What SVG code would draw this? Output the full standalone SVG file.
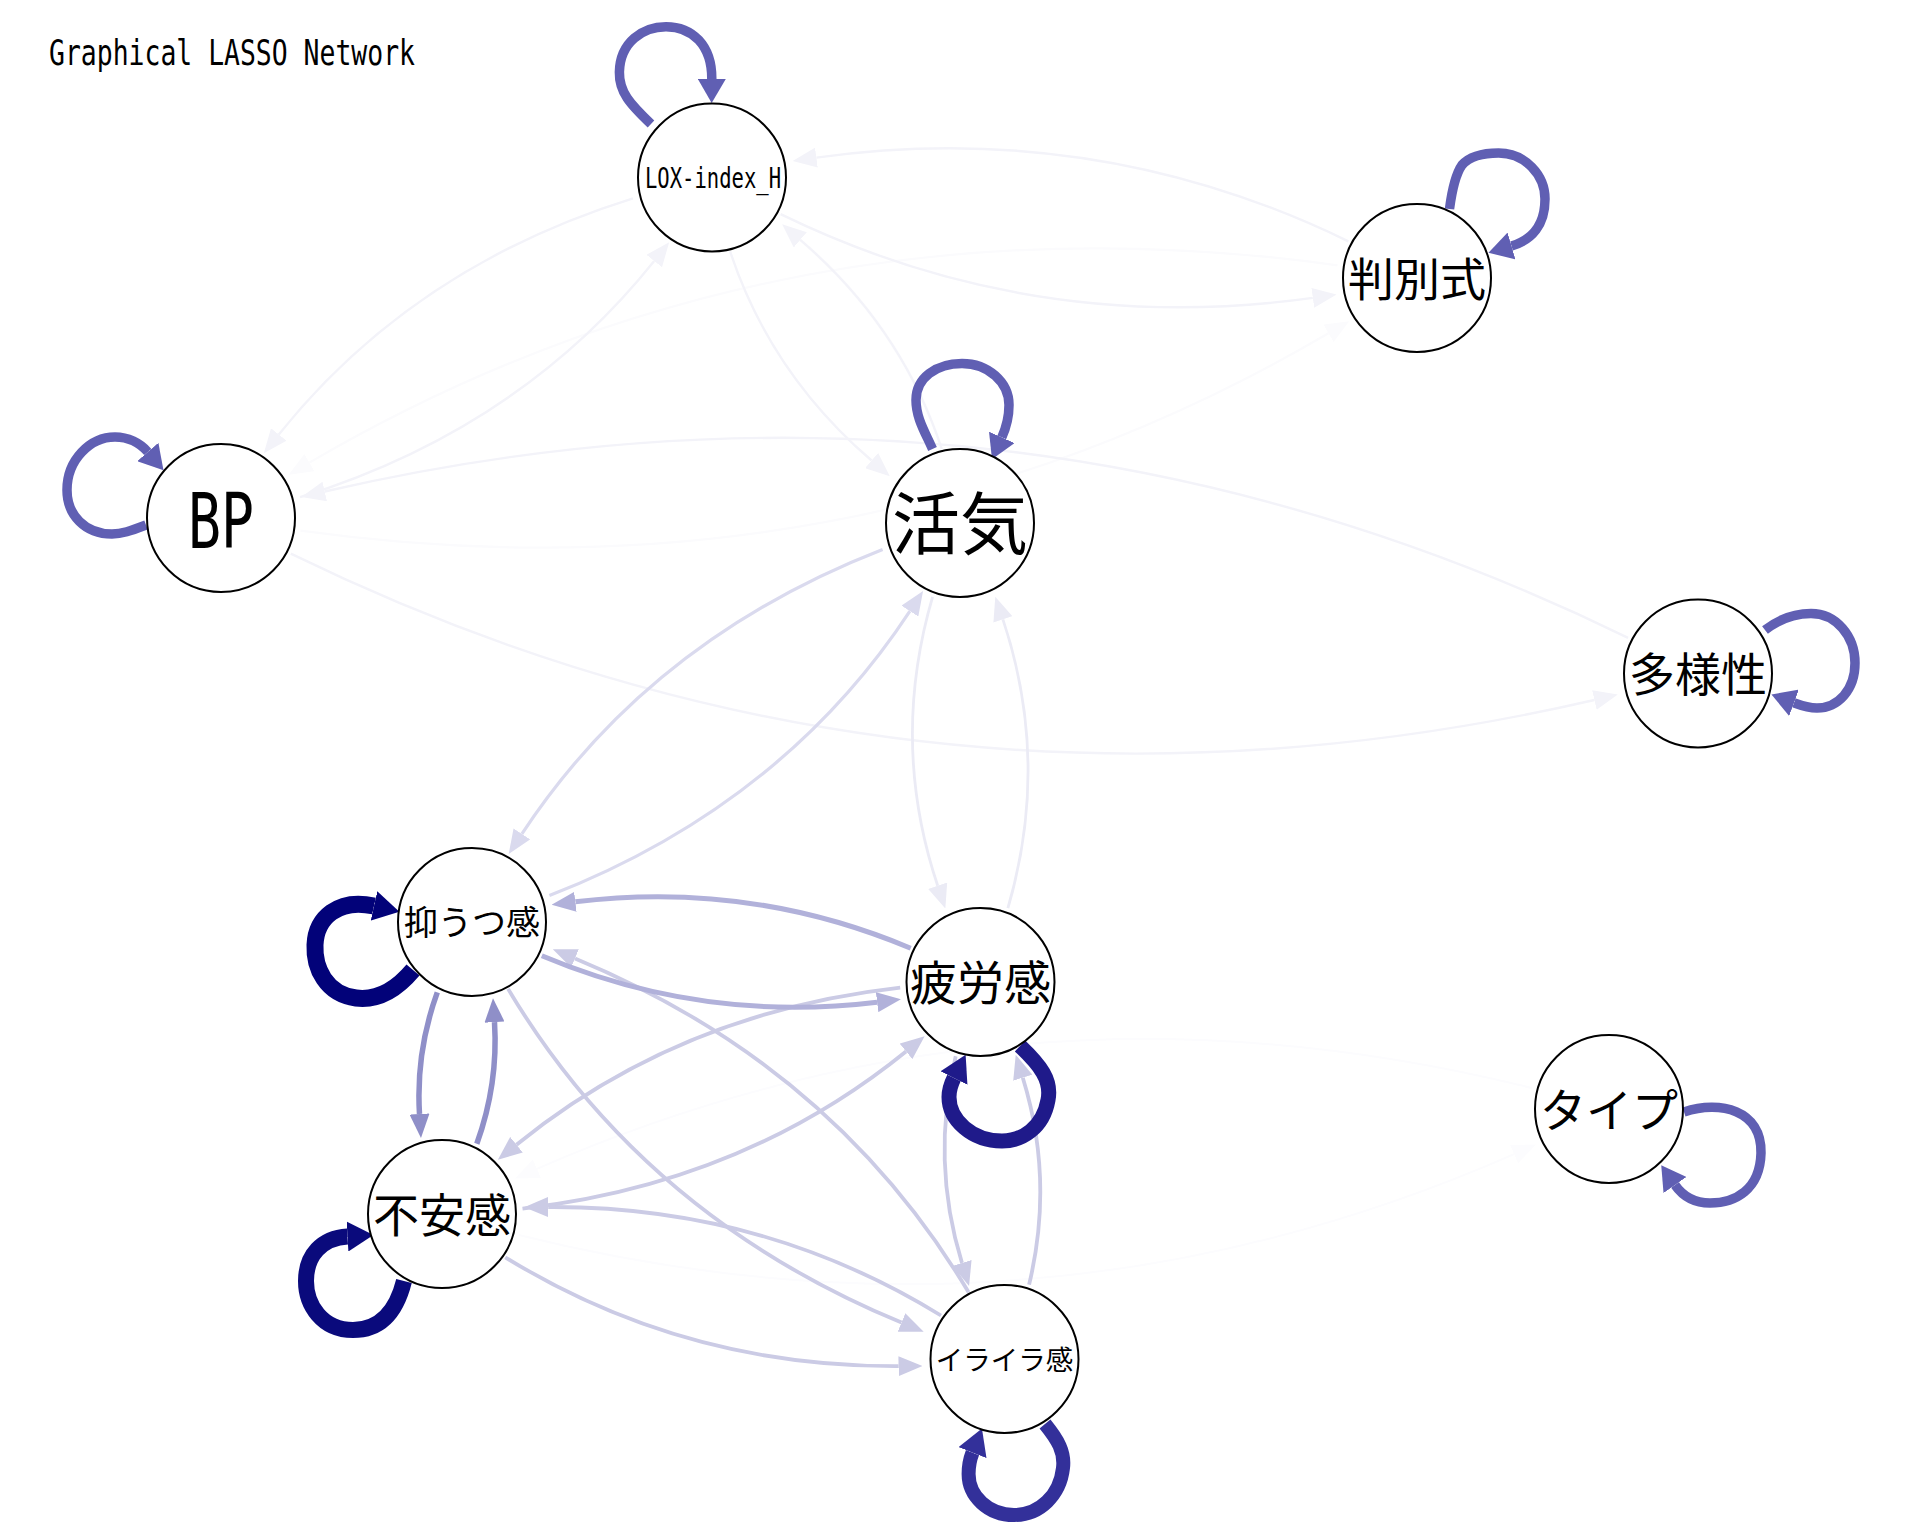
<svg xmlns="http://www.w3.org/2000/svg" width="1920" height="1536" viewBox="0 0 1920 1536">
<style>
.lat{font-family:"DejaVu Sans Mono","Liberation Mono",monospace;fill:#000}
.cjk{font-family:"Noto Sans CJK JP","Noto Sans CJK SC",sans-serif;fill:#000;text-anchor:middle}
.node circle{fill:#fff;stroke:#000;stroke-width:2}
.e{fill:none;stroke-linecap:butt}
.c1{stroke:#8f8fc8;stroke-width:5.5;marker-end:url(#a1)}
.c2{stroke:#b1b1da;stroke-width:5;marker-end:url(#a2)}
.c3{stroke:#cbcbe5;stroke-width:3.8;marker-end:url(#a3)}
.c4{stroke:#dadaee;stroke-width:3.2;marker-end:url(#a4)}
.c5{stroke:#ebebf5;stroke-width:2.8;marker-end:url(#a5)}
.c6{stroke:#f3f3f9;stroke-width:2.4;marker-end:url(#a6)}
.c7{stroke:#fbfbfd;stroke-width:2.2;marker-end:url(#a7)}
.c8{stroke:#fcfcfe;stroke-width:2;marker-end:url(#a8)}
.lm{stroke:#605fb3;stroke-width:9.5;marker-end:url(#lm)}
.ly{stroke:#020279;stroke-width:17;marker-end:url(#ly)}
.lf{stroke:#0a0a7c;stroke-width:16;marker-end:url(#lf)}
.lh{stroke:#1f1a8a;stroke-width:15;marker-end:url(#lh)}
.li{stroke:#33309a;stroke-width:14;marker-end:url(#li)}
</style>
<defs>
<marker id="a1" markerUnits="userSpaceOnUse" orient="auto" markerWidth="24" markerHeight="20" refX="0" refY="10"><path d="M0,0 L24,10 L0,20 z" fill="#8f8fc8"/></marker>
<marker id="a2" markerUnits="userSpaceOnUse" orient="auto" markerWidth="24" markerHeight="20" refX="0" refY="10"><path d="M0,0 L24,10 L0,20 z" fill="#b1b1da"/></marker>
<marker id="a3" markerUnits="userSpaceOnUse" orient="auto" markerWidth="24" markerHeight="20" refX="0" refY="10"><path d="M0,0 L24,10 L0,20 z" fill="#cbcbe5"/></marker>
<marker id="a4" markerUnits="userSpaceOnUse" orient="auto" markerWidth="24" markerHeight="20" refX="0" refY="10"><path d="M0,0 L24,10 L0,20 z" fill="#dadaee"/></marker>
<marker id="a5" markerUnits="userSpaceOnUse" orient="auto" markerWidth="24" markerHeight="20" refX="0" refY="10"><path d="M0,0 L24,10 L0,20 z" fill="#ebebf5"/></marker>
<marker id="a6" markerUnits="userSpaceOnUse" orient="auto" markerWidth="24" markerHeight="20" refX="0" refY="10"><path d="M0,0 L24,10 L0,20 z" fill="#f3f3f9"/></marker>
<marker id="a7" markerUnits="userSpaceOnUse" orient="auto" markerWidth="24" markerHeight="20" refX="0" refY="10"><path d="M0,0 L24,10 L0,20 z" fill="#fbfbfd"/></marker>
<marker id="a8" markerUnits="userSpaceOnUse" orient="auto" markerWidth="24" markerHeight="20" refX="0" refY="10"><path d="M0,0 L24,10 L0,20 z" fill="#fcfcfe"/></marker>
<marker id="lm" markerUnits="userSpaceOnUse" orient="auto" markerWidth="24" markerHeight="28" refX="0" refY="14"><path d="M0,0 L24,14 L0,28 z" fill="#605fb3"/></marker>
<marker id="ly" markerUnits="userSpaceOnUse" orient="auto" markerWidth="26" markerHeight="30" refX="0" refY="15"><path d="M0,0 L26,15 L0,30 z" fill="#020279"/></marker>
<marker id="lf" markerUnits="userSpaceOnUse" orient="auto" markerWidth="26" markerHeight="30" refX="0" refY="15"><path d="M0,0 L26,15 L0,30 z" fill="#0a0a7c"/></marker>
<marker id="lh" markerUnits="userSpaceOnUse" orient="auto" markerWidth="26" markerHeight="30" refX="0" refY="15"><path d="M0,0 L26,15 L0,30 z" fill="#1f1a8a"/></marker>
<marker id="li" markerUnits="userSpaceOnUse" orient="auto" markerWidth="26" markerHeight="30" refX="0" refY="15"><path d="M0,0 L26,15 L0,30 z" fill="#33309a"/></marker>
</defs>
<rect x="0" y="0" width="1920" height="1536" fill="#fff"/>
<text class="lat" x="49" y="64.5" font-size="36" textLength="366" lengthAdjust="spacingAndGlyphs">Graphical LASSO Network</text>
<g id="connectors">
<path class="e c8" d="M518.8,1235 Q1035.6,1364 1514.1,1154.1"/>
<path class="e c8" d="M1532.1,1088.1 Q1015.5,959.1 536.9,1168.8"/>
<path class="e c7" d="M300.4,530.6 Q858.6,608 1328.5,333.3"/>
<path class="e c7" d="M1337.5,265.3 Q779.3,188 309.4,462.6"/>
<path class="e c6" d="M1348.4,241.3 Q1096.7,118.8 816.4,157.6"/>
<path class="e c6" d="M780.6,214.2 Q1032.2,336.8 1312.8,297.9"/>
<path class="e c6" d="M633,198.3 Q412.9,266.8 278.8,434.5"/>
<path class="e c6" d="M300,497.2 Q520.1,428.8 654.2,261"/>
<path class="e c6" d="M730.1,251.4 Q770.4,373.5 871.6,460.5"/>
<path class="e c6" d="M941.8,449.1 Q901.7,327 800.3,239.9"/>
<path class="e c6" d="M1628.1,637.8 Q1006.8,334.2 324.7,491.5"/>
<path class="e c6" d="M290.8,553.7 Q912.3,857.2 1594.4,700"/>
<path class="e c5" d="M932.6,596.9 Q889.8,742.9 937.7,885.7"/>
<path class="e c5" d="M1007.9,908.1 Q1050.6,762.1 1002.9,619.4"/>
<path class="e c4" d="M882.6,549.4 Q649.6,640 521.9,833.9"/>
<path class="e c4" d="M549.4,895.6 Q782.5,804.9 909.9,611.1"/>
<path class="e c3" d="M900.2,987.6 Q679.4,1012.3 516.5,1144.7"/>
<path class="e c3" d="M522.5,1208.6 Q743.2,1183.5 906,1051.4"/>
<path class="e c3" d="M508.1,988.9 Q643.2,1215.7 901.5,1322.6"/>
<path class="e c3" d="M968.6,1292.3 Q833.3,1065.3 575,958.4"/>
<path class="e c3" d="M505.3,1257.3 Q684,1367.2 898.5,1366.2"/>
<path class="e c3" d="M941,1315.5 Q762.5,1205.7 548.2,1207"/>
<path class="e c3" d="M955.7,1056.2 Q930.6,1161.1 962,1263"/>
<path class="e c3" d="M1029.1,1284.6 Q1054.3,1179.9 1022.8,1077.7"/>
<path class="e c2" d="M910.7,948.2 Q749.6,880.5 575.4,901.8"/>
<path class="e c2" d="M541.8,955.8 Q702.9,1023.5 877.1,1002.2"/>
<path class="e c1" d="M437.3,992.4 Q415.7,1052.1 419.5,1114"/>
<path class="e c1" d="M476.8,1143.8 Q498.4,1083.9 494.5,1022.1"/>
<path class="e lm" d="M651,124 C630,104 619,92 619.4,72 C620,42 643,26.7 666,26.7 C692,26.7 712,45 711.8,79"/>
<path class="e lm" d="M146,525 C130,531 122,534 112,534 C85,534 67,515 67,490 C67,460 90,437 115,437 C128,437 140,443 147.8,452"/>
<path class="e lm" d="M932.5,449 C925,432 916,418 916,400 C916,378 936,363.5 962,363.5 C988,363.5 1009,382 1009,405 C1009,418 1006,428 1001.8,437.4"/>
<path class="e lm" d="M1449.5,209 C1452,190 1455,175 1462,165 C1470,156 1484,153 1498.6,153 C1525,153 1545,175 1545,199 C1545,225 1532,240 1511.5,246"/>
<path class="e lm" d="M1765,630 C1778,620 1795,613.5 1811,613.5 C1836,613.5 1855,636 1855,663 C1855,690 1838,708 1817,708 C1808,708 1800,705 1794,702.8"/>
<path class="e lm" d="M1684,1112 C1720,1100 1762,1110 1761,1153 C1760,1190 1735,1203 1710,1203 C1693,1203 1682,1195 1675,1185"/>
<path class="e ly" d="M413,970 C392,995 372,1000 356,998 C326,994 314,968 315,945 C316,918 338,898 374,906"/>
<path class="e lf" d="M404,1281 C398,1305 385,1330 353,1330 C322,1330 306,1305 306,1281 C306,1255 322,1238 347.5,1236.5"/>
<path class="e lh" d="M1020,1046 C1040,1065 1052,1080 1048,1100 C1043,1128 1022,1141 1002,1141 C972,1141 949,1120 949,1097 C949,1090 951,1084 954,1078"/>
<path class="e li" d="M1045,1424 C1058,1440 1065,1452 1063,1468 C1060,1495 1040,1515 1014,1515 C988,1515 968.6,1496 968.6,1474 C968.6,1466 970,1459 972.5,1452.6"/>
</g>
<g id="nodes">
<g id="node-lox" class="node"><circle cx="712" cy="177.5" r="74"/><text class="lat" x="713" y="188" font-size="27.5" text-anchor="middle" textLength="136" lengthAdjust="spacingAndGlyphs">LOX-index_H</text></g>
<g id="node-hanbetsu" class="node"><circle cx="1417" cy="278" r="74"/><text class="cjk" x="1417" y="295.5" font-size="46">判別式</text></g>
<g id="node-bp" class="node"><circle cx="221" cy="518" r="74"/><text class="lat" x="221" y="548" font-size="77" text-anchor="middle" textLength="66" lengthAdjust="spacingAndGlyphs">BP</text></g>
<g id="node-kakki" class="node"><circle cx="960" cy="523" r="74"/><text class="cjk" x="960" y="549" font-size="68">活気</text></g>
<g id="node-tayousei" class="node"><circle cx="1698" cy="673.5" r="74"/><text class="cjk" x="1698" y="691" font-size="46">多様性</text></g>
<g id="node-yokuutsu" class="node"><circle cx="472" cy="922" r="74"/><text class="cjk" x="472" y="935" font-size="34">抑うつ感</text></g>
<g id="node-hirou" class="node"><circle cx="980.5" cy="982" r="74"/><text class="cjk" x="980.5" y="1000" font-size="47">疲労感</text></g>
<g id="node-fuan" class="node"><circle cx="442" cy="1214" r="74"/><text class="cjk" x="442" y="1232" font-size="46">不安感</text></g>
<g id="node-iraira" class="node"><circle cx="1004.5" cy="1359" r="74"/><text class="cjk" x="1004.5" y="1369.5" font-size="27.5">イライラ感</text></g>
<g id="node-type" class="node"><circle cx="1609" cy="1109" r="74"/><text class="cjk" x="1609" y="1126.5" font-size="46">タイプ</text></g>
</g>
</svg>
